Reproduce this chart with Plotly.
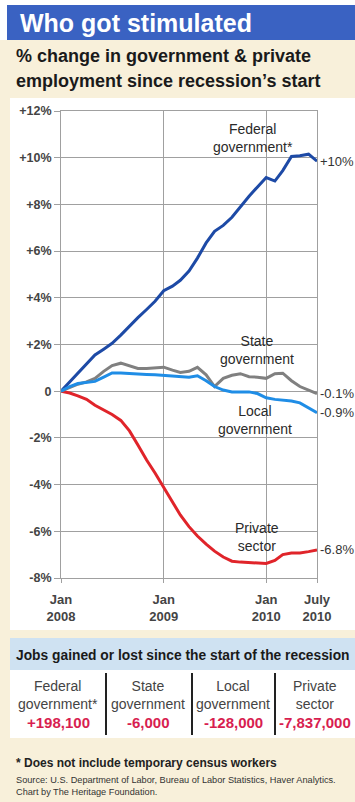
import plotly.graph_objects as go
import pandas as pd

# ---------------- data ----------------
months = pd.date_range("2008-01-01", "2010-07-01", freq="MS")

federal = [0.0, 0.4, 0.8, 1.2, 1.55, 1.8, 2.05, 2.4, 2.8, 3.15, 3.5, 3.85, 4.3, 4.5, 4.75,
           5.15, 5.7, 6.35, 6.85, 7.1, 7.45, 7.9, 8.35, 8.75, 9.15, 9.0, 9.45, 10.05, 10.08,
           10.15, 9.85]
state = [0.0, 0.15, 0.3, 0.4, 0.55, 0.85, 1.1, 1.2, 1.1, 0.97, 0.97, 1.0, 1.03, 0.9, 0.8,
         0.85, 1.02, 0.7, 0.2, 0.55, 0.68, 0.75, 0.62, 0.6, 0.55, 0.75, 0.77, 0.45, 0.2,
         0.05, -0.1]
local = [0.0, 0.2, 0.33, 0.36, 0.42, 0.6, 0.78, 0.78, 0.75, 0.73, 0.72, 0.7, 0.68, 0.66,
         0.63, 0.6, 0.66, 0.45, 0.2, 0.05, -0.03, -0.04, -0.03, -0.1, -0.28, -0.35, -0.37,
         -0.42, -0.5, -0.7, -0.92]
private = [0.0, -0.08, -0.2, -0.35, -0.6, -0.8, -1.0, -1.25, -1.7, -2.3, -2.95, -3.5,
           -4.1, -4.7, -5.3, -5.8, -6.2, -6.55, -6.85, -7.1, -7.28, -7.32, -7.35, -7.37,
           -7.38, -7.25, -7.0, -6.93, -6.93, -6.87, -6.8]

series_names = ["Federal government*", "Private sector", "State government", "Local government"]
end_labels = ["+10%", "-6.8%", "-0.1%", "-0.9%"]

y_ticks = [-8, -6, -4, -2, 0, 2, 4, 6, 8, 10, 12]
y_tick_text = ["-8%", "-6%", "-4%", "-2%", "0", "+2%", "+4%", "+6%", "+8%", "+10%", "+12%"]
x_ticks = ["2008-01-01", "2009-01-01", "2010-01-01", "2010-07-01"]
x_tick_text = ["Jan<br>2008", "Jan<br>2009", "Jan<br>2010", "July<br>2010"]

job_cats = ["Federal<br>government*", "State<br>government", "Local<br>government", "Private<br>sector"]
job_vals = ["+198,100", "-6,000", "-128,000", "-7,837,000"]

# ---------------- styling ----------------
CREAM = "#f8f0da"
TITLE_BLUE = "#3a62c2"
BAND_BLUE = "#cfe2f2"
GRID = "#a0a0a0"
TXT = "#333333"
FONT = "Liberation Sans, Arial, sans-serif"
colors = ["#1d4aa6", "#e0242a", "#808080", "#1f8de6"]

L, R, T, B = 61, 317, 111, 578
W, H = 355, 802


def fx(p):
    return (p - L) / (R - L)


def fy(p):
    return (B - p) / (B - T)


fig = go.Figure()
ann = []
ys = [federal, private, state, local]
for name, yv, c, lab in zip(series_names, ys, colors, end_labels):
    fig.add_trace(go.Scatter(x=months, y=yv, mode="lines", name=name,
                             line=dict(color=c, width=3), hoverinfo="skip"))
    ann.append(dict(x=months[-1], y=yv[-1], text=lab, xref="x", yref="y",
                    xanchor="left", yanchor="middle", xshift=1, showarrow=False,
                    font=dict(family=FONT, size=13, color=TXT)))

shapes = []


def rect(x0, y0, x1, y1, color):
    shapes.append(dict(type="rect", xref="paper", yref="paper", x0=fx(x0), x1=fx(x1),
                       y0=fy(y1), y1=fy(y0), fillcolor=color, line=dict(width=0),
                       layer="below"))


rect(0, 0, W, 5, "white")
rect(0, 0, 7, 40, "white")
rect(7, 5, W, 40, TITLE_BLUE)
rect(10, 98, W, 630, "white")
rect(10, 638, W, 670, BAND_BLUE)
rect(10, 670, W, 738, "white")
for sx in [106, 192, 275]:
    shapes.append(dict(type="line", xref="paper", yref="paper", x0=fx(sx), x1=fx(sx),
                       y0=fy(673), y1=fy(735), line=dict(color="#222222", width=2)))


def text(x, y, s, size, color=TXT, anchor="left", weight="normal"):
    ann.append(dict(x=fx(x), y=fy(y), xref="paper", yref="paper", text=s, showarrow=False,
                    xanchor=anchor, yanchor="middle", align=anchor,
                    font=dict(family=FONT, size=size, color=color, weight=weight)))


text(18, 23, "Who got stimulated", 25, "white", weight="bold")
text(14, 56, "% change in government &amp; private", 18, "#1a1a1a", weight="bold")
text(14, 81, "employment since recession\u2019s start", 18, "#1a1a1a", weight="bold")

# series labels
text(253, 138, "Federal<br>government*", 14, "#2a2a2a", anchor="center")
text(257, 350, "State<br>government", 14, "#2a2a2a", anchor="center")
text(255, 420, "Local<br>government", 14, "#2a2a2a", anchor="center")
text(257, 537, "Private<br>sector", 14, "#2a2a2a", anchor="center")

# jobs table
text(14, 655, "Jobs gained or lost since the start of the recession", 13.8, "#1a1a1a", weight="bold")
col_x = [58, 148, 233, 315]
for cx, cat, val in zip(col_x, job_cats, job_vals):
    text(cx, 695, cat, 14, "#444444", anchor="center")
    text(cx, 722, val, 15, "#d81e50", anchor="center", weight="bold")

text(14, 763, "* Does not include temporary census workers", 12, "#222222", weight="bold")
text(14, 780, "Source: U.S. Department of Labor, Bureau of Labor Statistics, Haver Analytics.", 9.2, "#333333")
text(14, 792, "Chart by The Heritage Foundation.", 9.2, "#333333")

fig.update_layout(
    width=W, height=H, autosize=False,
    margin=dict(l=L, r=W - R, t=T, b=H - B, pad=0),
    paper_bgcolor=CREAM, plot_bgcolor="white",
    showlegend=False, hovermode=False,
    shapes=shapes, annotations=ann,
    font=dict(family=FONT, color=TXT),
)
fig.update_yaxes(range=[-8, 12], tickvals=y_ticks, ticktext=y_tick_text, showgrid=True,
                 gridcolor=GRID, gridwidth=1, zeroline=False, showline=True, linecolor=GRID,
                 mirror=True, ticks="outside", ticklen=6, tickcolor=GRID,
                 tickfont=dict(family=FONT, size=12.5, color="#444444", weight="bold"),
                 fixedrange=True)
fig.update_xaxes(type="date", range=[months[0], months[-1]], tickvals=x_ticks,
                 ticktext=x_tick_text, showgrid=True, gridcolor=GRID, gridwidth=1,
                 zeroline=False, showline=True, linecolor=GRID, mirror=True,
                 ticks="outside", ticklen=4, tickcolor=GRID, ticklabelstandoff=5,
                 tickfont=dict(family=FONT, size=13, color="#444444", weight="bold"),
                 fixedrange=True)

fig.write_html("out.html", config={"displayModeBar": False})
